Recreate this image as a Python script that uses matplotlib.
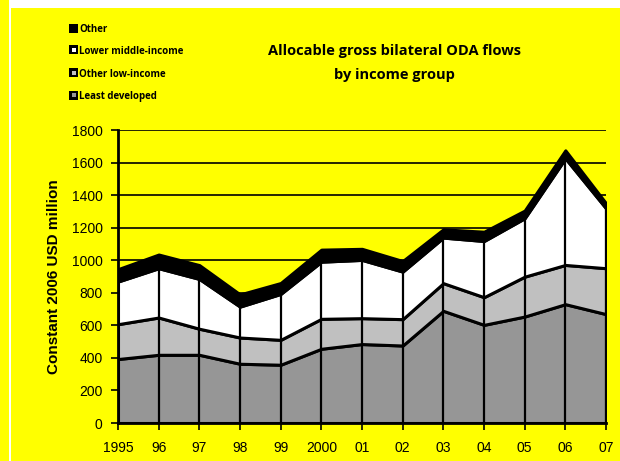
import matplotlib
matplotlib.use("Agg")
import matplotlib.pyplot as plt
import numpy as np
from matplotlib.patches import Rectangle

years = ["1995", "96", "97", "98", "99", "2000", "01", "02", "03", "04", "05", "06", "07"]
least_developed = [393, 419, 419, 364, 358, 456, 485, 476, 689, 603, 654, 730, 669]
other_low_income = [214, 229, 160, 161, 153, 184, 159, 162, 170, 170, 245, 241, 282]
lower_middle_income = [262, 303, 306, 190, 282, 351, 358, 292, 280, 345, 359, 655, 368]
other = [76, 84, 85, 75, 67, 74, 68, 65, 51, 57, 47, 49, 31]
series_names = ["Least developed", "Other low-income", "Lower middle-income", "Other"]
colors = ["#969696", "#C0C0C0", "#FFFFFF", "#000000"]
title_lines = ["Allocable gross bilateral ODA flows", "by income group"]

YELLOW = "#FFFF00"
fig = plt.figure(figsize=(6.2, 4.61), dpi=100, facecolor=YELLOW)
# white frame pieces
fig.patches.append(Rectangle((10/620, 1 - 8/461), 1, 8/461, transform=fig.transFigure,
                             facecolor="white", edgecolor="none", zorder=0))
fig.patches.append(Rectangle((9/620, 0), 1.5/620, 1, transform=fig.transFigure,
                             facecolor="white", edgecolor="none", zorder=0))

ax = fig.add_axes([118/620, 1 - 423/461, (606 - 118)/620, (423 - 130)/461])
ax.set_facecolor(YELLOW)
x = np.arange(len(years))
ax.stackplot(x, least_developed, other_low_income, lower_middle_income, other,
             colors=colors, edgecolor="black", linewidth=2.2, zorder=3)
total = np.array(least_developed) + np.array(other_low_income) + np.array(lower_middle_income)
ax.vlines(x, 0, total, colors="black", linewidth=1.6, zorder=4)

ax.set_xlim(0, len(years) - 1)
ax.set_ylim(0, 1800)
ax.set_yticks(np.arange(0, 1801, 200))
ax.set_xticks(x)
ax.set_xticklabels(years)
ax.yaxis.grid(True, color="black", linewidth=1.2, zorder=1)
ax.set_axisbelow(True)
for s in ["top", "right"]:
    ax.spines[s].set_visible(False)
for s in ["left", "bottom"]:
    ax.spines[s].set_linewidth(2)
    ax.spines[s].set_zorder(5)
ax.tick_params(axis="both", direction="out", length=5, width=1.2, color="black",
               labelsize=10)
ax.tick_params(axis="x", pad=8)
ax.tick_params(axis="y", pad=6)
for lab in ax.get_xticklabels() + ax.get_yticklabels():
    lab.set_fontfamily("Liberation Sans")
ax.set_ylabel("Constant 2006 USD million", fontfamily="Liberation Sans",
              fontweight="bold", fontsize=11, labelpad=8)

for yy, t in zip([51.5, 74.5], title_lines):
    fig.text(394/620, 1 - yy/461, t, ha="center", va="center", fontfamily="Open Sans",
             fontweight="bold", fontsize=10.5)

# legend
leg_y = [28, 50, 73, 95]
order = [3, 2, 1, 0]
for yy, idx in zip(leg_y, order):
    fy = 1 - yy/461
    fig.patches.append(Rectangle((69/620, fy - 4.5/461), 9/620, 9/461, transform=fig.transFigure,
                                 facecolor="black", edgecolor="none", zorder=5))
    if idx != 3:
        fig.patches.append(Rectangle((71.5/620, fy - 2/461), 4/620, 4/461, transform=fig.transFigure,
                                     facecolor=colors[idx], edgecolor="none", zorder=6))
    fig.text(79/620, fy - 1.5/461, series_names[idx], ha="left", va="center",
             fontfamily="Open Sans", fontweight="bold", fontsize=7)

fig.savefig("out.png", dpi=100, facecolor=YELLOW)
